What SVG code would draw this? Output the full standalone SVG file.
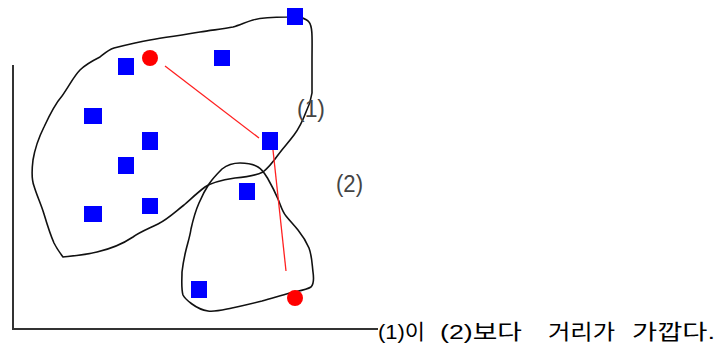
<svg xmlns="http://www.w3.org/2000/svg" width="718" height="347" viewBox="0 0 718 347">
<style>
.sq{fill:#0000ff}
.dot{fill:#ff0000}
.blob{fill:none;stroke:#111;stroke-width:1.6;stroke-linejoin:round;stroke-linecap:round}
.axis{fill:none;stroke:#333;stroke-width:2}
.link{stroke:#ff2020;stroke-width:1.3;fill:none}
.lbl{font-family:"Liberation Sans","DejaVu Sans",sans-serif;font-size:23px;fill:#444}
.cap{font-family:"Liberation Sans","Noto Sans CJK KR",sans-serif;font-size:21px;fill:#000}
</style>
<rect width="718" height="347" fill="#fff"/>
<g id="axes">
<path class="axis" d="M13,65 V329 H378"/>
</g>
<g id="cluster1">
<path class="blob" d="M287,17 C297,16 306,18 309,22 C313,27 312,40 312,60 L312,93 C311,100 309,106 306,112 C303,120 300,127 294,135 C288,143 283,148 278,155 C273,162 268,168 263,172 C255,176 247,177 235,178 C222,180 212,182 205,187 C197,193 192,198 184,205 C175,212 168,219 158,224 C148,229 140,232 133,237 C124,243 110,249 97,252 C85,255 72,256 63,257 C60,253 57,249 54,243 C50,234 47,224 44,214 C41,204 37,196 34,186 C31,178 32,168 33,160 C35,148 39,137 44,127 C50,114 55,104 62,96 C69,86 74,76 80,70 C86,64 94,60 100,57 C105,53 108,50 114,48 C126,45 138,42 150,40 C167,37 184,35 200,32 C212,30 224,29 233,27 C240,25 246,22 253,20 C263,17 275,17 287,17 Z"/>
</g>
<g id="cluster2">
<path class="blob" d="M240,163 C247,163 253,164 258,167 C263,170 265,174 268,179 C272,186 275,192 278,199 C281,206 282,211 286,216 C290,221 294,225 298,230 C302,235 306,241 309,248 C312,256 312,264 313,272 C314,279 314,284 311,287 C306,290 298,291 290,293 C280,296 272,298 262,301 C250,304 242,306 232,308 C222,310 215,312 208,311 C201,310 196,307 192,304 C188,301 185,299 183,295 C181,288 182,280 182,272 C183,264 184,258 186,250 C188,242 190,236 191,229 C193,220 195,212 199,203 C202,196 205,190 209,184 C213,178 217,174 222,169 C227,165 233,163 240,163 Z"/>
</g>
<g id="connectors">
<line class="link" x1="165" y1="66" x2="259" y2="138"/>
<line class="link" x1="273" y1="150" x2="286" y2="271"/>
</g>
<g id="points">
<rect class="sq" x="287" y="8" width="16" height="17"/>
<rect class="sq" x="118" y="58" width="16" height="17"/>
<rect class="sq" x="214" y="50" width="16" height="16"/>
<rect class="sq" x="84" y="108" width="18" height="16"/>
<rect class="sq" x="142" y="132" width="16" height="18"/>
<rect class="sq" x="262" y="132" width="16" height="18"/>
<rect class="sq" x="118" y="157" width="16" height="17"/>
<rect class="sq" x="84" y="206" width="18" height="16"/>
<rect class="sq" x="142" y="198" width="16" height="16"/>
<rect class="sq" x="239" y="183" width="16" height="17"/>
<rect class="sq" x="191" y="281" width="16" height="17"/>
<circle class="dot" cx="150" cy="58" r="8"/>
<circle class="dot" cx="295" cy="298" r="8"/>
</g>
<g id="label1"><text class="lbl" x="297" y="117" textLength="28" lengthAdjust="spacingAndGlyphs">(1)</text></g>
<g id="label2"><text class="lbl" x="336" y="192" textLength="27" lengthAdjust="spacingAndGlyphs">(2)</text></g>
<g id="caption">
<text class="cap" x="378" y="339" textLength="47" lengthAdjust="spacingAndGlyphs">(1)이</text>
<text class="cap" x="440" y="339" textLength="82" lengthAdjust="spacingAndGlyphs">(2)보다</text>
<text class="cap" x="548" y="339" textLength="67" lengthAdjust="spacingAndGlyphs">거리가</text>
<text class="cap" x="632" y="339" textLength="83" lengthAdjust="spacingAndGlyphs">가깝다.</text>
</g>
</svg>
